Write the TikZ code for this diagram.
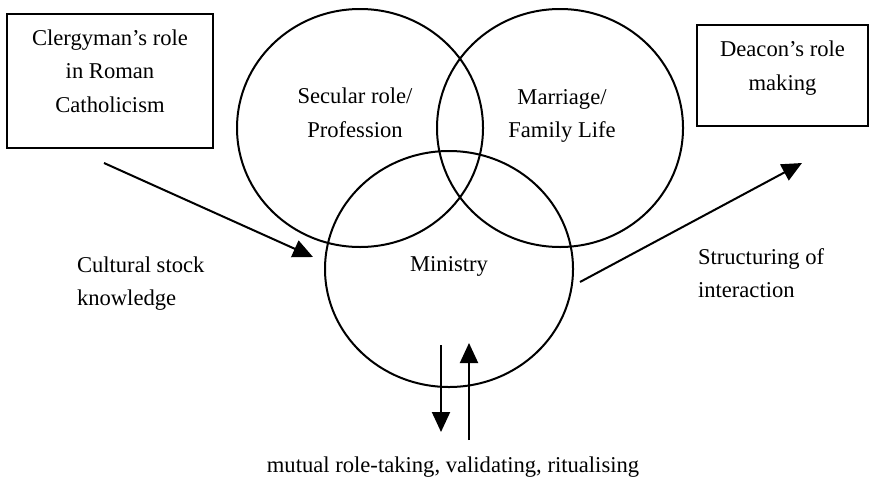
\documentclass[tikz,border=0pt]{standalone}
\usepackage{fontspec}
\setmainfont{Liberation Serif}
\usepackage{tikz}
\usetikzlibrary{arrows.meta,positioning,shapes.geometric}

\begin{document}
\begin{tikzpicture}[x=0.5pt,y=-0.5pt,line width=1pt,
    every node/.style={font=\fontsize{11.3}{16.8}\selectfont,inner sep=0pt},
    rolebox/.style={draw,align=center,text depth=10pt},
    ring/.style={draw,ellipse,minimum width=123pt,minimum height=119pt},
    flow/.style={-{Triangle[length=10pt,width=9pt]}}]
  \useasboundingbox (0,0) rectangle (870,487);
  \node[rolebox,minimum width=103pt,minimum height=67pt] (clergy) at (110,81)
     {Clergyman's role\\in Roman\\Catholicism};
  \node[rolebox,minimum width=85.5pt,minimum height=50.5pt] (deacon) at (782.5,75.5)
     {Deacon's role\\making};
  \node[ring] (secular) at (360,128) {};
  \node[ring] (family) at (560,128) {};
  \node[ring,minimum width=124pt,minimum height=118pt] (ministry) at (449,269) {};
  \node[align=center] (secularlbl) at (355,113) {Secular role/\\Profession};
  \node[align=center] (familylbl) at (562,116) {Marriage/\\Family Life};
  \node (ministrylbl) at (449,266) {Ministry};
  \node[align=left,anchor=west] (stock) at (76,283.5) {Cultural stock\\knowledge};
  \node[align=left,anchor=west] (structuring) at (697,273) {Structuring of\\interaction};
  \node (mutual) at (453,467.5) {mutual role-taking, validating, ritualising};
  \coordinate (stockfrom) at (104,163);
  \coordinate (stockto) at (313,257);
  \coordinate (structfrom) at (580,282);
  \coordinate (structto) at (802,163);
  \coordinate (downfrom) at (441,345);
  \coordinate (downto) at (441,432);
  \coordinate (upfrom) at (469,440);
  \coordinate (upto) at (469,343);
  \draw[flow] (stockfrom) -- (stockto);
  \draw[flow] (structfrom) -- (structto);
  \draw[flow] (downfrom) -- (downto);
  \draw[flow] (upfrom) -- (upto);
\end{tikzpicture}
\end{document}
